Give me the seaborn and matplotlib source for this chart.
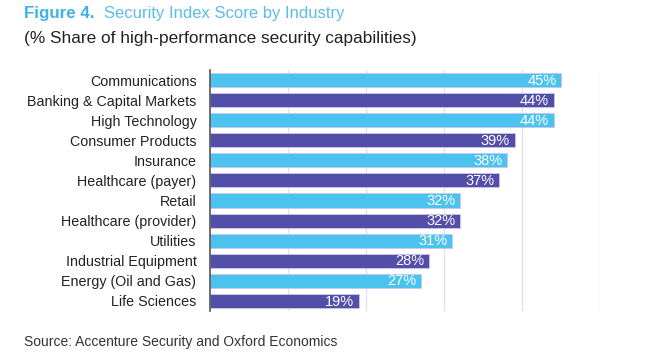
import seaborn as sns
from matplotlib import pyplot as plt
import pandas as pd

industries = ["Communications", "Banking & Capital Markets", "High Technology",
              "Consumer Products", "Insurance", "Healthcare (payer)", "Retail",
              "Healthcare (provider)", "Utilities", "Industrial Equipment",
              "Energy (Oil and Gas)", "Life Sciences"]
scores = [45, 44, 44, 39, 38, 37, 32, 32, 31, 28, 27, 19]

blue = "#4BC3EE"
purple = "#534FA8"
colors = [blue if i % 2 == 0 else purple for i in range(len(industries))]

df = pd.DataFrame({"Industry": industries, "Score": scores})

sns.set_style("white")
plt.rcParams['font.family'] = ['Liberation Sans', 'DejaVu Sans']

fig = plt.figure(figsize=(6.47, 3.57), dpi=100)
ax = fig.add_axes([0.325, 0.129, 0.603, 0.675])

sns.barplot(data=df, y="Industry", x="Score", hue="Industry",
            palette=colors, legend=False, width=0.7, ax=ax, saturation=1,
            edgecolor="#c9c6ee", linewidth=0.6)

for i, v in enumerate(scores):
    ax.text(v - 0.6, i + 0.03, f"{v}%", color="white", ha="right", va="center",
            fontsize=10.5)

ax.set_xlim(0, 50)
ax.set_ylim(11.5, -0.5)
ax.set_xticks([10, 20, 30, 40, 50])
ax.set_xticklabels([])
ax.tick_params(axis="x", length=0)
ax.tick_params(axis="y", length=0, labelsize=10.3, pad=10, labelcolor="#222222")
ax.grid(axis="x", color="#dfe3e6", linewidth=1)
ax.set_axisbelow(True)
ax.set_xlabel("")
ax.set_ylabel("")
for s in ["top", "right", "bottom"]:
    ax.spines[s].set_visible(False)
ax.spines["left"].set_color("#555555")
ax.spines["left"].set_linewidth(1.2)

fig.text(0.037, 0.962, "Figure 4.", color="#3FB3E6", fontsize=12.2,
         fontweight="bold", va="center")
fig.text(0.161, 0.962, "Security Index Score by Industry", color="#5BBDEA",
         fontsize=12, va="center")
fig.text(0.037, 0.893, "(% Share of high-performance security capabilities)",
         color="#222222", fontsize=12.4, va="center")
fig.text(0.037, 0.042, "Source: Accenture Security and Oxford Economics",
         color="#333333", fontsize=10, va="center")

plt.savefig("out.png", dpi=100)
